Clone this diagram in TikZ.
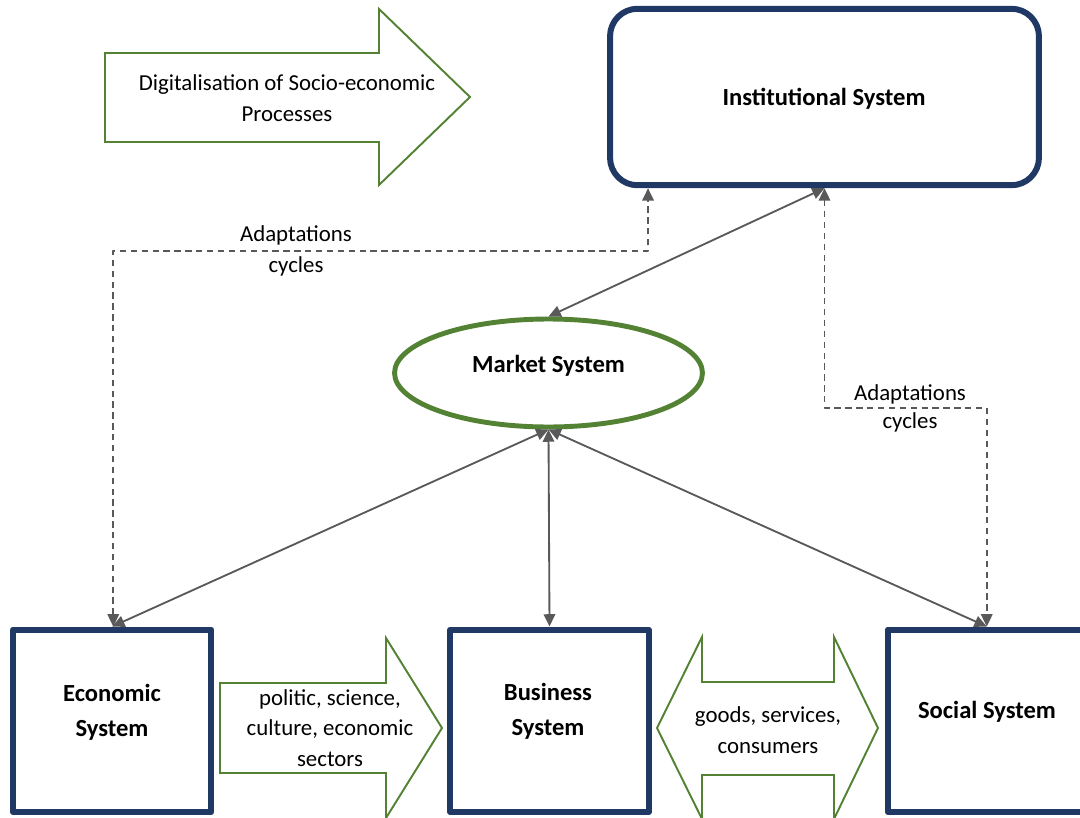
\documentclass[tikz,border=0pt]{standalone}
\usepackage{fontspec}
\setmainfont{Carlito}
\usetikzlibrary{arrows.meta,shapes.geometric}
\definecolor{sysblue}{HTML}{203864}
\definecolor{sysgreen}{HTML}{548235}
\definecolor{linkgray}{HTML}{595959}

\begin{document}
\begin{tikzpicture}[x=0.02cm, y=-0.02cm, line join=round, >={Triangle[length=7pt,width=6.5pt]},
    sysbox/.style={draw=sysblue, line width=3.4pt, minimum width=3.97cm, minimum height=3.65cm},
    sysname/.style={font=\fontsize{14}{19.8}\selectfont\bfseries, align=center, inner sep=0pt},
    txt/.style={font=\fontsize{13}{17.5}\selectfont, align=center, inner sep=0pt},
    flow/.style={draw=sysgreen, line width=1.1pt, line join=miter},
    link/.style={draw=linkgray, line width=1.05pt, <->},
    adapt/.style={link, dash pattern=on 3.6pt off 2.6pt}]
    \useasboundingbox (0,0) rectangle (1080,818);

    \draw[flow] (105,53) -- (379,53) -- (379,9) -- (470,97) -- (379,185) -- (379,142) -- (105,142) -- cycle;
    \node[txt] (digital) at (287,98) {Digitalisation of Socio-economic\\Processes};

    \node[draw=sysblue, line width=3.4pt, rounded corners=0.55cm, minimum width=8.58cm, minimum height=3.53cm, sysname] (inst) at (824.5,97) {};
    \node[sysname] (instname) at (824,99) {Institutional System};

    \node[ellipse, draw=sysgreen, line width=2.8pt, minimum width=6.16cm, minimum height=2.16cm] (market) at (548.5,373) {};
    \node[sysname] (marketname) at (548.5,366) {Market System};

    \node[sysbox] (econ) at (112.25,720.75) {};
    \node[sysname] (econname) at (112,712) {Economic\\System};
    \node[sysbox] (business) at (549.5,720.75) {};
    \node[sysname] (businessname) at (548,711.5) {Business\\System};
    \node[sysbox] (social) at (986.75,720.75) {};
    \node[sysname] (socialname) at (987,712) {Social System};

    \draw[flow] (220,683) -- (386,683) -- (386,638) -- (442,728) -- (386,818) -- (386,773) -- (220,773) -- cycle;
    \node[txt] (sectors) at (330,728) {politic, science,\\culture, economic\\sectors};

    \draw[flow] (657,728) -- (702,637) -- (702,682) -- (834,682) -- (834,637) -- (878,728) -- (834,819) -- (834,775) -- (702,775) -- (702,819) -- cycle;
    \node[txt] (goods) at (768,730) {goods, services,\\consumers};

    \node[txt, font=\fontsize{13}{18}\selectfont] (adaptL) at (296,251) {Adaptations\\cycles};
    \node[txt, font=\fontsize{13}{16}\selectfont] (adaptR) at (910,408) {Adaptations\\cycles};

    \draw[link] (inst.south) -- (market.north);
    \draw[link] (market.south) -- (econ.north);
    \draw[link] (market.south) -- (business.north);
    \draw[link] (market.south) -- (social.north);
    \draw[adapt] ([xshift=0.02cm]econ.north) |- (adaptL.center) -| ([xshift=0.82cm]inst.south west);
    \draw[adapt] (inst.south) |- (adaptR.center) -| (social.north);
\end{tikzpicture}
\end{document}
